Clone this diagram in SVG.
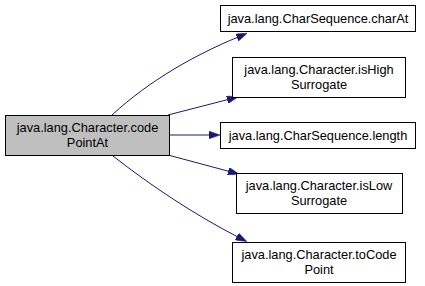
<svg xmlns="http://www.w3.org/2000/svg" width="425" height="286" viewBox="0 0 425 286">
  <style>
    .node rect { fill: #ffffff; stroke: #000000; stroke-width: 1; }
    .node.root rect { fill: #bfbfbf; }
    .node text { font-family: "Liberation Sans", Arial, sans-serif; font-size: 12.8px; fill: #000000; text-anchor: middle; }
    .edge { fill: none; stroke: #191970; stroke-width: 1; marker-end: url(#arrow); }
  </style>
  <defs>
    <marker id="arrow" viewBox="0 0 10 7" refX="0" refY="3.5" markerWidth="11" markerHeight="7.7" markerUnits="userSpaceOnUse" orient="auto">
      <path d="M0,0 L10,3.5 L0,7 z" fill="#191970" stroke="#191970" stroke-width="0.5"/>
    </marker>
  </defs>
  <rect width="425" height="286" fill="#ffffff"/>

  <!-- call edges from codePointAt to its callees -->
  <g id="edges">
    <path class="edge" d="M112,115 C150,80 195,55 237,37.5"/>
    <path class="edge" d="M168,115 L227.3,99.7"/>
    <path class="edge" d="M169,135 L209,135"/>
    <path class="edge" d="M168,155 L228.3,171.2"/>
    <path class="edge" d="M113,156 C150,185 195,215 237,236.5"/>
  </g>

  <g id="node-codePointAt" class="node root">
    <rect x="5.5" y="115.5" width="164" height="40"/>
    <text x="87.5" y="132">java.lang.Character.code</text>
    <text x="87.5" y="147">PointAt</text>
  </g>

  <g id="node-charAt" class="node">
    <rect x="220.5" y="5.5" width="195" height="26"/>
    <text x="318" y="23">java.lang.CharSequence.charAt</text>
  </g>

  <g id="node-isHighSurrogate" class="node">
    <rect x="232.5" y="57.5" width="173" height="40"/>
    <text x="319" y="74">java.lang.Character.isHigh</text>
    <text x="319" y="89">Surrogate</text>
  </g>

  <g id="node-length" class="node">
    <rect x="220.5" y="122.5" width="195" height="26"/>
    <text x="318" y="140">java.lang.CharSequence.length</text>
  </g>

  <g id="node-isLowSurrogate" class="node">
    <rect x="236.5" y="173.5" width="166" height="40"/>
    <text x="319" y="190">java.lang.Character.isLow</text>
    <text x="319" y="205">Surrogate</text>
  </g>

  <g id="node-toCodePoint" class="node">
    <rect x="232.5" y="242.5" width="173" height="40"/>
    <text x="319" y="259">java.lang.Character.toCode</text>
    <text x="319" y="274">Point</text>
  </g>
</svg>
